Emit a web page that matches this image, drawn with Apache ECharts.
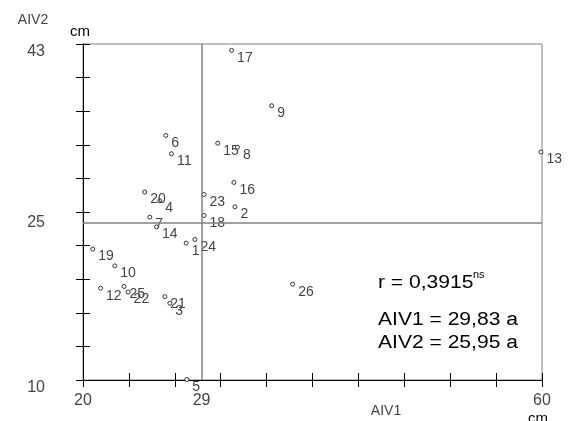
<!DOCTYPE html>
<html><head><meta charset="utf-8">
<script src="https://cdn.jsdelivr.net/npm/echarts@6/dist/echarts.min.js"></script>
<style>html,body{margin:0;padding:0;background:#fff}#c{width:571px;height:421px}</style>
</head><body><div id="c"></div>
<script>
// ---- data ----
const pointIds = ['1','2','3','4','5','6','7','8','9','10','11','12','13','14','15','16','17','18','19','20','21','22','23','24','25','26'];
const aiv1 = [28.99, 33.24, 27.57, 26.69, 29.05, 27.22, 25.82, 33.46, 36.44, 22.77, 27.71, 21.53, 59.91, 26.40, 31.74, 33.15, 32.95, 30.55, 20.85, 25.38, 27.13, 23.93, 30.55, 29.75, 23.58, 38.27];
const aiv2 = [23.44, 27.01, 17.54, 27.60, 10.05, 34.02, 26.00, 32.86, 36.94, 21.21, 32.22, 19.02, 32.39, 25.04, 33.25, 29.40, 42.38, 26.16, 22.86, 28.46, 18.19, 18.63, 28.22, 23.80, 19.19, 19.41];
const meanLineX = 30.33;   // vertical reference line (labelled "29")
const meanLineY = 25.47;   // horizontal reference line (labelled "25")
const xTickValues = [20, 24, 28, 32, 36, 40, 44, 48, 52, 56, 60];
const yTickValues = [10, 13.3, 16.6, 19.9, 23.2, 26.5, 29.8, 33.1, 36.4, 39.7, 43];
const xLabelValues = [20, meanLineX, 60];
const xLabelTexts = ['20', '29', '60'];
const yLabelValues = [10, 43];
const yLabelTexts = ['10', '43'];
const yMidLabelValues = [meanLineY];
const yMidLabelTexts = ['25'];
const rText = 'r = 0,3915';
const rSup = 'ns';
const meanText1 = 'AIV1 = 29,83 a';
const meanText2 = 'AIV2 = 25,95 a';

const FONT = 'Liberation Sans, Arial, sans-serif';
function mapper(vals, texts) {
  return function (v) {
    for (let i = 0; i < vals.length; i++) if (Math.abs(vals[i] - v) < 1e-6) return texts[i];
    return '';
  };
}

const chart = echarts.init(document.getElementById('c'), null, {renderer: 'canvas'});
const lblStyle = {fontFamily: FONT, fontSize: 16, color: '#444'};
chart.setOption({
  animation: false,
  backgroundColor: '#fff',
  grid: {left: 83, right: 29, top: 44, bottom: 41, show: true, borderColor: '#808080', borderWidth: 1, backgroundColor: 'transparent'},
  xAxis: [
    {type: 'value', min: 20, max: 60, position: 'bottom',
     axisLine: {show: true, onZero: false, lineStyle: {color: '#000', width: 1}},
     axisTick: {show: true, customValues: xTickValues, length: 7, inside: false, lineStyle: {color: '#000'}},
     axisLabel: Object.assign({customValues: xLabelValues, formatter: mapper(xLabelValues, xLabelTexts), margin: 13}, lblStyle),
     splitLine: {show: false}},
    {type: 'value', min: 20, max: 60, position: 'bottom',
     axisLine: {show: false},
     axisTick: {show: true, customValues: xTickValues, length: 7, inside: true, lineStyle: {color: '#000'}},
     axisLabel: {show: false}, splitLine: {show: false}}
  ],
  yAxis: [
    {type: 'value', min: 10, max: 43, position: 'left',
     axisLine: {show: true, onZero: false, lineStyle: {color: '#000', width: 1}},
     axisTick: {show: true, customValues: yTickValues, length: 7, inside: false, lineStyle: {color: '#000'}},
     axisLabel: Object.assign({customValues: yLabelValues, formatter: mapper(yLabelValues, yLabelTexts), margin: 38, verticalAlign: 'top'}, lblStyle),
     splitLine: {show: false}},
    {type: 'value', min: 10, max: 43, position: 'left',
     axisLine: {show: false},
     axisTick: {show: true, customValues: yTickValues, length: 7, inside: true, lineStyle: {color: '#000'}},
     axisLabel: Object.assign({customValues: yMidLabelValues, formatter: mapper(yMidLabelValues, yMidLabelTexts), margin: 38, verticalAlign: 'middle'}, lblStyle),
     splitLine: {show: false}}
  ],
  series: [{
    type: 'scatter', xAxisIndex: 0, yAxisIndex: 0,
    data: aiv1.map((x, i) => [x, aiv2[i], pointIds[i]]),
    symbol: 'circle', symbolSize: 4,
    itemStyle: {color: '#fff', borderColor: '#333', borderWidth: 1, opacity: 1},
    label: {show: true, formatter: p => p.data[2], position: [8, 10], align: 'left', verticalAlign: 'middle',
            fontFamily: FONT, fontSize: 14, color: '#444'},
    labelLayout: {hideOverlap: false},
    emphasis: {disabled: true},
    markLine: {silent: true, symbol: 'none', animation: false, label: {show: false},
               lineStyle: {color: '#808080', width: 1.5, type: 'solid'},
               data: [{xAxis: meanLineX}, {yAxis: meanLineY}]}
  }],
  graphic: [
    {type: 'text', x: 33, y: 20, style: {text: 'AIV2', align: 'center', verticalAlign: 'middle', fontFamily: FONT, fontSize: 14, fill: '#444'}},
    {type: 'text', x: 80, y: 32, style: {text: 'cm', align: 'center', verticalAlign: 'middle', fontFamily: FONT, fontSize: 15, fill: '#000'}},
    {type: 'text', x: 386, y: 411, style: {text: 'AIV1', align: 'center', verticalAlign: 'middle', fontFamily: FONT, fontSize: 14, fill: '#444'}},
    {type: 'text', x: 538, y: 419, style: {text: 'cm', align: 'center', verticalAlign: 'middle', fontFamily: FONT, fontSize: 15, fill: '#000'}},
    {type: 'text', x: 378, y: 283, scaleX: 1.17, style: {text: rText, align: 'left', verticalAlign: 'middle', fontFamily: FONT, fontSize: 18, fill: '#000'}},
    {type: 'text', x: 473, y: 275, style: {text: rSup, align: 'left', verticalAlign: 'middle', fontFamily: FONT, fontSize: 11, fill: '#000'}},
    {type: 'text', x: 378, y: 320, scaleX: 1.17, style: {text: meanText1, align: 'left', verticalAlign: 'middle', fontFamily: FONT, fontSize: 18, fill: '#000'}},
    {type: 'text', x: 378, y: 343, scaleX: 1.17, style: {text: meanText2, align: 'left', verticalAlign: 'middle', fontFamily: FONT, fontSize: 18, fill: '#000'}}
  ]
});
</script></body></html>
